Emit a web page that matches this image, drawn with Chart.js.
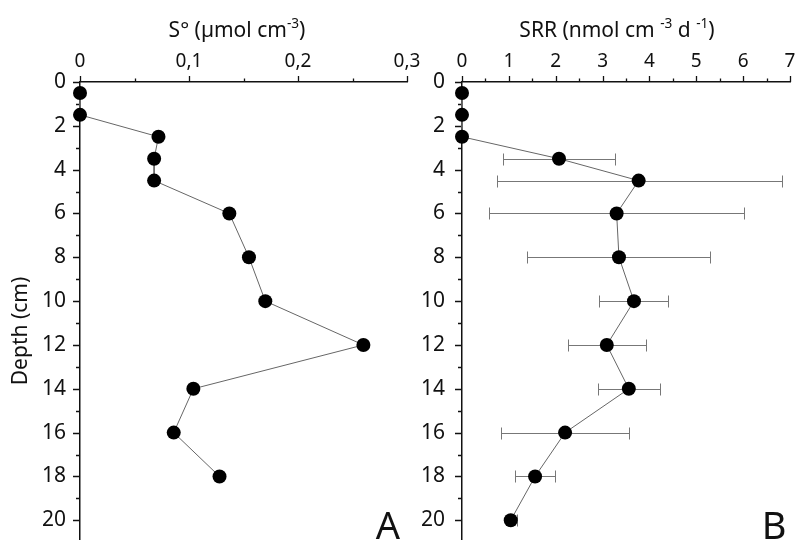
<!DOCTYPE html>
<html>
<head>
<meta charset="utf-8">
<script src="https://cdn.jsdelivr.net/npm/chart.js@4.4.0/dist/chart.umd.min.js"></script>
<style>
  body { margin: 0; background: #fff; overflow: hidden; }
  canvas { position: absolute; top: 0; }
  #chartA { left: 0; }
  #chartB { left: 400px; }
</style>
</head>
<body>
<canvas id="chartA" width="420" height="540"></canvas>
<canvas id="chartB" width="395" height="540"></canvas>
<script>
// panel A: elemental sulfur
const depthA = [0.5, 1.5, 2.5, 3.5, 4.5, 6, 8, 10, 12, 14, 16, 18];
const sulfur = [0, 0, 0.072, 0.068, 0.068, 0.137, 0.155, 0.170, 0.260, 0.104, 0.086, 0.128];

// panel B: sulfate reduction rate, with error range
const depthB = [0.5, 1.5, 2.5, 3.5, 4.5, 6, 8, 10, 12, 14, 16, 18, 20];
const srr = [0, 0, 0, 2.07, 3.77, 3.30, 3.35, 3.67, 3.09, 3.56, 2.20, 1.56, 1.04];
const srrLow = [null, null, null, 0.87, 0.74, 0.58, 1.38, 2.92, 2.26, 2.91, 0.83, 1.13, 0.98];
const srrHigh = [null, null, null, 3.26, 6.82, 6.01, 5.30, 4.39, 3.92, 4.22, 3.56, 1.98, 1.17];

const FONT = "'Noto Sans', 'DejaVu Sans', sans-serif";
const INK = '#111';

function pts(xs, ys) {
    return xs.map((x, i) => ({ x: x, y: ys[i] }));
}

// draws text with superscript parts, centred on cx
function drawRich(ctx, parts, cx, base, size) {
    let w = 0;
    parts.forEach(p => {
        ctx.font = (p.sup ? size * 0.65 : size) + 'px ' + FONT;
        p.w = ctx.measureText(p.t).width;
        w += p.w;
    });
    let x = cx - w / 2;
    ctx.textAlign = 'left';
    ctx.textBaseline = 'alphabetic';
    parts.forEach(p => {
        ctx.font = (p.sup ? size * 0.65 : size) + 'px ' + FONT;
        ctx.fillText(p.t, x, p.sup ? base - size * 0.45 : base);
        x += p.w;
    });
}

// no extra room for edge labels, the chart area is set by hand
function noPad(scale) {
    scale.paddingLeft = scale.paddingRight = scale.paddingTop = scale.paddingBottom = 0;
}

// minor + major tick marks, outside the axes
const tickMarks = {
    id: 'tickMarks',
    beforeDatasetsDraw(chart, args, opts) {
        const ctx = chart.ctx;
        const xs = chart.scales.x, ys = chart.scales.y;
        const top = chart.chartArea.top, left = chart.chartArea.left;
        ctx.save();
        ctx.strokeStyle = INK;
        ctx.lineWidth = 1.3;
        ctx.beginPath();
        for (let v = xs.min; v <= xs.max + 1e-9; v += opts.xMinor) {
            const px = Math.round(xs.getPixelForValue(v)) + 0.5;
            const major = Math.abs(v / opts.xMajor - Math.round(v / opts.xMajor)) < 1e-6;
            ctx.moveTo(px, top);
            ctx.lineTo(px, top - (major ? 6 : 3.5));
        }
        for (let v = 0; v <= 20; v += 1) {
            const py = Math.round(ys.getPixelForValue(v)) + 0.5;
            ctx.moveTo(left, py);
            ctx.lineTo(left - (v % 2 === 0 ? 7 : 4), py);
        }
        ctx.stroke();
        ctx.restore();
    }
};

// horizontal error bars for panel B
const errorBars = {
    id: 'errorBars',
    beforeDatasetsDraw(chart) {
        const ctx = chart.ctx;
        const xs = chart.scales.x, ys = chart.scales.y;
        ctx.save();
        ctx.strokeStyle = '#777';
        ctx.lineWidth = 1;
        ctx.beginPath();
        depthB.forEach((d, i) => {
            if (srrLow[i] === null) return;
            const y = Math.round(ys.getPixelForValue(d)) + 0.5;
            const x1 = Math.round(xs.getPixelForValue(srrLow[i])) + 0.5;
            const x2 = Math.round(xs.getPixelForValue(srrHigh[i])) + 0.5;
            ctx.moveTo(x1, y); ctx.lineTo(x2, y);
            ctx.moveTo(x1, y - 6); ctx.lineTo(x1, y + 6);
            ctx.moveTo(x2, y - 6); ctx.lineTo(x2, y + 6);
        });
        ctx.stroke();
        ctx.restore();
    }
};

// titles and panel letters
const labels = {
    id: 'labels',
    afterDraw(chart, args, opts) {
        const ctx = chart.ctx;
        ctx.save();
        ctx.fillStyle = INK;
        drawRich(ctx, opts.title, opts.titleX, 37, 21);
        ctx.font = '38px ' + FONT;
        ctx.textAlign = 'center';
        ctx.textBaseline = 'alphabetic';
        ctx.fillText(opts.letter, opts.letterX, 539);
        if (opts.yTitle) {
            ctx.translate(27, 331);
            ctx.rotate(-Math.PI / 2);
            ctx.font = '21px ' + FONT;
            ctx.fillText(opts.yTitle, 0, 0);
        }
        ctx.restore();
    }
};

function makeOptions(cfg) {
    return {
        responsive: false,
        animation: false,
        layout: { autoPadding: false, padding: { top: 0, left: 0, right: cfg.padRight, bottom: 0 } },
        plugins: {
            legend: { display: false },
            tooltip: { enabled: false },
            tickMarks: { xMinor: cfg.xMinor, xMajor: cfg.xMajor },
            labels: cfg.labels
        },
        scales: {
            x: {
                type: 'linear',
                position: 'top',
                bounds: 'data',
                min: 0,
                max: cfg.xMax,
                grid: { display: false, drawTicks: false },
                border: { display: true, color: INK, width: 1.5 },
                ticks: {
                    stepSize: cfg.xMajor,
                    padding: 9,
                    color: INK,
                    font: { family: FONT, size: 19 },
                    callback: cfg.xFormat
                },
                afterFit(scale) { scale.height = 82; noPad(scale); }
            },
            y: {
                type: 'linear',
                reverse: true,
                bounds: 'data',
                min: 0,
                max: 20.9,
                grid: { display: false, drawTicks: false },
                border: { display: true, color: INK, width: 1.5 },
                ticks: {
                    stepSize: 2,
                    includeBounds: false,
                    padding: cfg.yPad,
                    color: INK,
                    font: { family: FONT, size: 21 }
                },
                afterFit(scale) { scale.width = cfg.yWidth; noPad(scale); }
            }
        }
    };
}

const lineStyle = {
    showLine: true,
    borderColor: '#666',
    borderWidth: 1,
    pointRadius: 7,
    pointBackgroundColor: '#000',
    pointBorderWidth: 0,
    clip: false
};

new Chart(document.getElementById('chartA'), {
    type: 'scatter',
    data: { datasets: [Object.assign({ data: pts(sulfur, depthA) }, lineStyle)] },
    options: makeOptions({
        padRight: 13, xMax: 0.3, xMajor: 0.1, xMinor: 0.05, yWidth: 80, yPad: 14,
        xFormat: v => (Math.round(v * 10) / 10).toString().replace('.', ','),
        labels: {
            title: [{ t: 'S° (µmol cm' }, { t: '-3', sup: true }, { t: ')' }],
            titleX: 237, letter: 'A', letterX: 388, yTitle: 'Depth (cm)'
        }
    }),
    plugins: [tickMarks, labels]
});

new Chart(document.getElementById('chartB'), {
    type: 'scatter',
    data: { datasets: [Object.assign({ data: pts(srr, depthB) }, lineStyle)] },
    options: makeOptions({
        padRight: 5, xMax: 7, xMajor: 1, xMinor: 0.5, yWidth: 62, yPad: 17,
        xFormat: v => String(v),
        labels: {
            title: [{ t: 'SRR (nmol cm ' }, { t: '-3', sup: true }, { t: ' d ' }, { t: '-1', sup: true }, { t: ')' }],
            titleX: 217, letter: 'B', letterX: 374
        }
    }),
    plugins: [tickMarks, errorBars, labels]
});
</script>
</body>
</html>
